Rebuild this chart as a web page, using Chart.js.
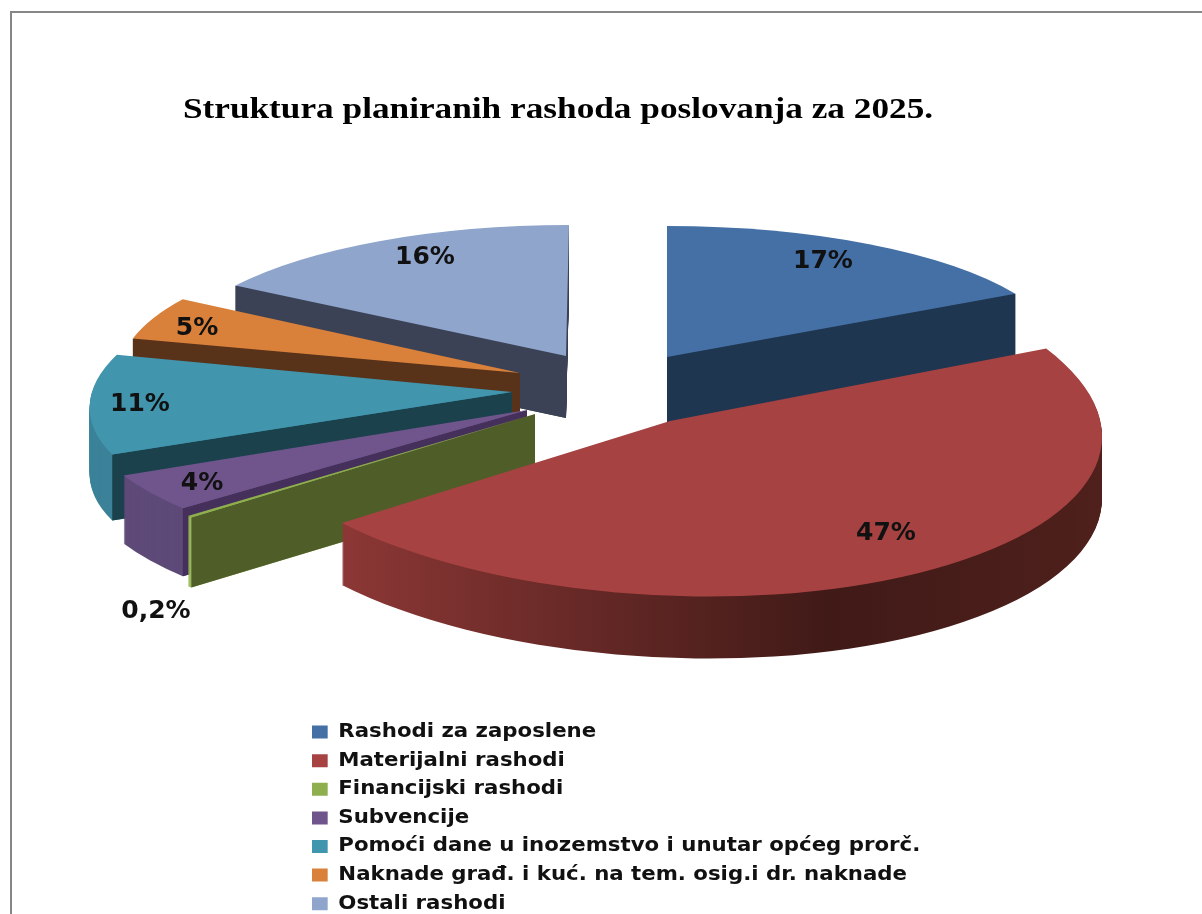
<!DOCTYPE html>
<html><head><meta charset="utf-8">
<style>
html,body{margin:0;padding:0;background:#fff;overflow:hidden}
#wrap{position:relative;width:1202px;height:914px}
#frame{position:absolute;left:10px;top:11px;right:0;bottom:0;border-left:2.5px solid #868686;border-top:2.5px solid #868686;pointer-events:none}
canvas{position:absolute;left:0;top:0}
</style>
<script src="https://cdn.jsdelivr.net/npm/chart.js@4/dist/chart.umd.min.js"></script>
</head><body>
<div id="wrap"><canvas id="c" width="1202" height="914"></canvas><div id="frame"></div></div>
<script>
const chartTitle = 'Struktura planiranih rashoda poslovanja za 2025.';
const categories = ['Rashodi za zaposlene','Materijalni rashodi','Financijski rashodi','Subvencije','Pomoći dane u inozemstvo i unutar općeg prorč.','Naknade građ. i kuć. na tem. osig.i dr. naknade','Ostali rashodi'];
const values = [17,47,0.2,4,11,5,16];
const valueLabels = ['17%','47%','0,2%','4%','11%','5%','16%'];
const topColors = ['#4570a5','#a64342','#8fae4e','#70558c','#4196ad','#d9813b','#8fa5cc'];
const faceColors = ['#1f3650','#4a1e1b','#4f5d28','#44305a','#1a414c','#59321a','#3b4255'];
const rimColors = ['#1f3650','#7a2f2d','#9ab85a','#5e4a78','#3b8299','#59321a','#3b4255'];

// 3D projection of each exploded slice (layout only)
const poses = [
 {ax:667,ay:357,rx:398,ry:131,kx:0,ky:0,d:66},
 {ax:670,ay:421,rx:432,ry:175,kx:4,ky:14,d:62},
 {ax:535,ay:414,rx:449,ry:161,kx:0,ky:0,d:70},
 {ax:527,ay:410,rx:445,ry:155,kx:0,ky:0,d:68},
 {ax:512,ay:392,rx:420,ry:148,kx:-45,ky:0,d:66},
 {ax:520,ay:373,rx:400,ry:137,kx:0,ky:0,d:50},
 {ax:566,ay:356,rx:394,ry:131,kx:-3,ky:0,d:62}
];
const paintOrder = [6,5,0,4,3,2,1];
const labelAnchors = [[823,261],[886,533],[156,611],[202,483],[140,404],[197,328],[425,257]];

function place(ctx, el, p, dy){
  const R = el.outerRadius;
  ctx.translate(p.ax, p.ay + dy);
  ctx.transform(p.rx/R, p.ky/R, p.kx/R, p.ry/R, 0, 0);
  ctx.translate(-el.x, -el.y);
}
function drawWith(ctx, el, fill){
  const o = el.options, t = Object.create(o);
  Object.defineProperty(t,'backgroundColor',{value:fill});
  Object.defineProperty(t,'borderWidth',{value:0});
  el.options = t; el.draw(ctx); el.options = o;
}
function stretched(box, sx, x0){
  const base = Object.getPrototypeOf(box).draw;
  box.draw = function(area){
    const c = box.ctx;
    c.save();
    c.translate(x0,0); c.scale(sx,1); c.translate(-x0,0);
    base.call(box, area);
    c.restore();
  };
}
const pie3d = {
  id:'pie3d',
  afterLayout(chart){
    const t = chart.titleBlock, l = chart.legend;
    const th = t.bottom - t.top;
    t.left = 0; t.right = 1116; t.top = 92; t.bottom = 92 + th;
    const h = l.bottom - l.top;
    l.left = 302.4; l.right = 1100; l.top = 713; l.bottom = 713 + h;
    l.adjustHitBoxes();
    stretched(t,1.175,558);
    stretched(l,1.12,312);
  },
  beforeDatasetsDraw(chart){
    const ctx = chart.ctx, arcs = chart.getDatasetMeta(0).data;
    paintOrder.forEach(i=>{
      const el = arcs[i], p = poses[i], R = el.outerRadius;
      let fill = rimColors[i];
      if(i===1){
        const g = ctx.createLinearGradient(el.x-R,0,el.x+R,0);
        g.addColorStop(0.0,'#9a3d3b'); g.addColorStop(0.12,'#8b3735');
        g.addColorStop(0.68,'#401a17'); g.addColorStop(1,'#4f201c');
        fill = g;
      }
      for(let dy=p.d; dy>=1; dy--){
        ctx.save(); place(ctx,el,p,dy); drawWith(ctx,el,fill); ctx.restore();
      }
      // radial cut faces that look towards the viewer
      const mid = (el.startAngle+el.endAngle)/2;
      [el.startAngle, el.endAngle].forEach(a=>{
        const lx = Math.cos(a), ly = Math.sin(a);
        const ex = p.rx*lx + p.kx*ly, ey = p.ry*ly + p.ky*lx;
        const mx = p.rx*Math.cos(mid) + p.kx*Math.sin(mid), my = p.ry*Math.sin(mid) + p.ky*Math.cos(mid);
        const sideMid = ex*my - ey*mx, sideDown = ex*1;
        if(sideMid*sideDown < 0 && i!==1){
          ctx.save(); ctx.fillStyle = faceColors[i];
          ctx.beginPath();
          ctx.moveTo(p.ax,p.ay); ctx.lineTo(p.ax+ex,p.ay+ey);
          ctx.lineTo(p.ax+ex,p.ay+ey+p.d); ctx.lineTo(p.ax,p.ay+p.d);
          ctx.closePath(); ctx.fill(); ctx.restore();
        }
      });
      ctx.save(); place(ctx,el,p,0); drawWith(ctx,el,topColors[i]); ctx.restore();
    });
    return false;
  },
  afterDraw(chart){
    const ctx = chart.ctx;
    ctx.save();
    ctx.font = 'bold 25px "DejaVu Sans"';
    ctx.fillStyle = '#111';
    ctx.textAlign = 'center'; ctx.textBaseline = 'middle';
    valueLabels.forEach((s,i)=>ctx.fillText(s,labelAnchors[i][0],labelAnchors[i][1]));
    ctx.restore();
  }
};
new Chart(document.getElementById('c'),{
  type:'pie',
  data:{labels:categories,datasets:[{data:values,backgroundColor:topColors,borderWidth:0}]},
  plugins:[pie3d],
  options:{
    responsive:false,animation:false,
    events:[],
    rotation:0,
    plugins:{
      tooltip:{enabled:false},
      title:{display:true,text:chartTitle,color:'#000',padding:0,
        font:{family:'"Liberation Serif"',weight:'bold',size:30}},
      legend:{display:true,position:'left',align:'start',
        labels:{boxWidth:14,boxHeight:13,padding:9.6,color:'#111',
          font:{family:'"DejaVu Sans"',weight:'bold',size:19}}}
    }
  }
});
</script>
</body></html>
